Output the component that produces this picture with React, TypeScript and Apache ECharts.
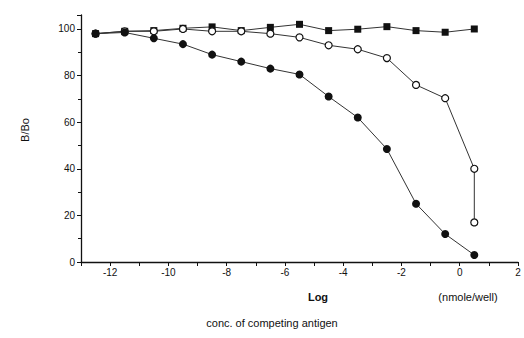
import React, { useEffect, useRef } from "react";
import * as echarts from "echarts";

const xValues = [-12.5, -11.5, -10.5, -9.5, -8.5, -7.5, -6.5, -5.5, -4.5, -3.5, -2.5, -1.5, -0.5, 0.5];
const filledCircles = [98, 98.5, 96, 93.5, 89, 86, 83, 80.5, 71, 62, 48.5, 25, 12, 3];
const openCircleX = [-12.5, -11.5, -10.5, -9.5, -8.5, -7.5, -6.5, -5.5, -4.5, -3.5, -2.5, -1.5, -0.5, 0.5, 0.5];
const openCircles = [98, 99, 99, 100, 99, 99, 98, 96.4, 93, 91.3, 87.5, 76, 70.3, 40, 17];
const filledSquares = [98, 99, 99.3, 100.3, 100.9, 99.3, 100.7, 102, 99.3, 99.9, 101, 99.3, 98.6, 100];

const yTicks = [0, 20, 40, 60, 80, 100];

const FONT = "Liberation Sans";

export default function App() {
  const ref = useRef<HTMLDivElement>(null);
  useEffect(() => {
    if (!ref.current) return;
    const chart = echarts.init(ref.current, undefined, { renderer: "svg" });
    const pairs = (xs: number[], ys: number[]) => xs.map((x, i) => [x, ys[i]]);
    chart.setOption({
      animation: false,
      backgroundColor: "#fff",
      grid: { left: 81, right: 6, top: 15, bottom: 76 },
      xAxis: {
        type: "value",
        min: -13,
        max: 2,
        interval: 1,
        axisLine: { show: true, onZero: false, lineStyle: { color: "#111", width: 1.3 } },
        axisTick: { show: true, inside: false, length: 4, lineStyle: { color: "#111" } },
        splitLine: { show: false },
        axisLabel: {
          color: "#111",
          fontFamily: FONT,
          fontSize: 10,
          margin: 5,
          formatter: (v: number) => (Math.round(v) % 2 === 0 ? String(v) : ""),
        },
      },
      yAxis: {
        type: "value",
        min: 0,
        max: 106,
        interval: 20,
        axisLine: { show: true, onZero: false, lineStyle: { color: "#111", width: 1.3 } },
        axisTick: { show: true, length: 4, lineStyle: { color: "#111" } },
        minorTick: { show: true, splitNumber: 2, length: 3, lineStyle: { color: "#111" } },
        splitLine: { show: false },
        axisLabel: {
          color: "#111",
          fontFamily: FONT,
          fontSize: 10,
          margin: 6,
          formatter: (v: number) => (yTicks.includes(v) ? String(v) : ""),
        },
      },
      series: [
        {
          type: "line",
          data: pairs(xValues, filledSquares),
          symbol: "rect",
          symbolSize: 7,
          itemStyle: { color: "#111" },
          lineStyle: { color: "#333", width: 1 },
          z: 3,
        },
        {
          type: "line",
          data: pairs(openCircleX, openCircles),
          symbol: "circle",
          symbolSize: 7,
          showAllSymbol: true,
          itemStyle: { color: "#fff", borderColor: "#111", borderWidth: 1.2 },
          lineStyle: { color: "#333", width: 1 },
          z: 4,
        },
        {
          type: "line",
          data: pairs(xValues, filledCircles),
          symbol: "circle",
          symbolSize: 8,
          itemStyle: { color: "#111" },
          lineStyle: { color: "#333", width: 1 },
          z: 5,
        },
      ],
      graphic: [
        {
          type: "text",
          x: 25,
          y: 130,
          rotation: Math.PI / 2,
          style: { text: "B/Bo", fontFamily: FONT, fontSize: 11, fill: "#111", align: "center", verticalAlign: "middle" },
        },
        {
          type: "text",
          x: 318,
          y: 297,
          style: { text: "Log", fontFamily: FONT, fontSize: 11, fontWeight: "bold", fill: "#111", align: "center", verticalAlign: "middle" },
        },
        {
          type: "text",
          x: 468,
          y: 297,
          style: { text: "(nmole/well)", fontFamily: FONT, fontSize: 11, fill: "#111", align: "center", verticalAlign: "middle" },
        },
        {
          type: "text",
          x: 272,
          y: 323,
          style: { text: "conc. of competing antigen", fontFamily: FONT, fontSize: 11, fill: "#111", align: "center", verticalAlign: "middle" },
        },
      ],
    });
    return () => chart.dispose();
  }, []);
  return <div ref={ref} style={{ width: 524, height: 338, position: "absolute", left: 0, top: 0 }} />;
}
